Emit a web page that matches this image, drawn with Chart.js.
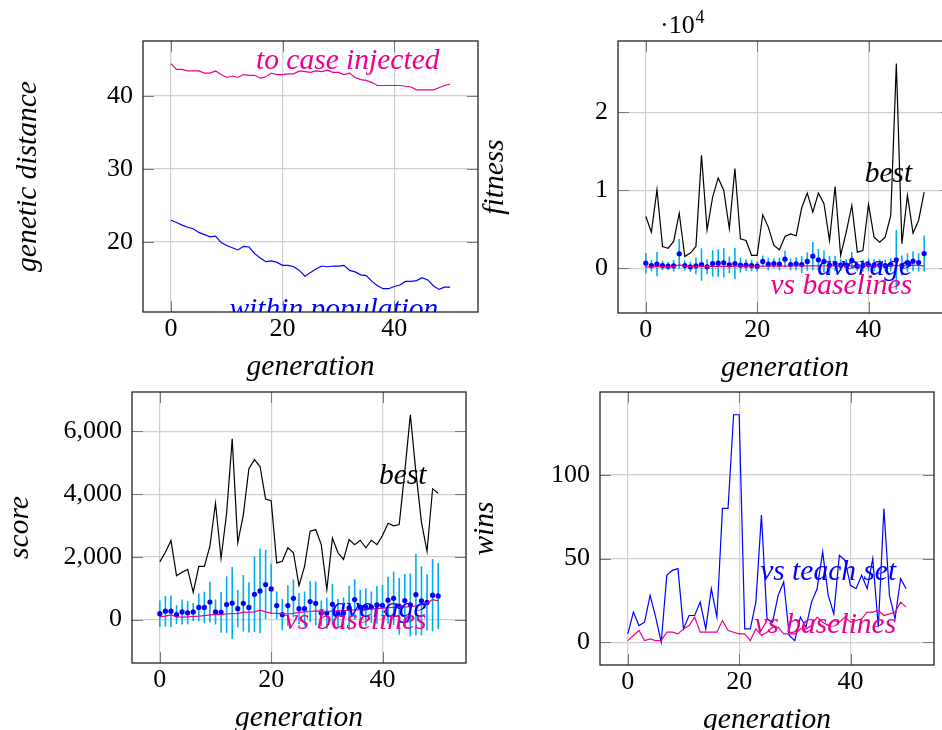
<!DOCTYPE html>
<html>
<head>
<meta charset="utf-8">
<script src="https://cdn.jsdelivr.net/npm/chart.js@4.4.1/dist/chart.umd.min.js"></script>
<style>
  html, body { margin: 0; padding: 0; background: #fff; overflow: hidden; width: 942px; height: 730px; position: relative; }
  canvas { position: absolute; }
</style>
</head>
<body>
<canvas id="distance"></canvas>
<canvas id="fitness"></canvas>
<canvas id="score"></canvas>
<canvas id="wins"></canvas>
<script>
// ---- data ----------------------------------------------------------
const generations = Array.from({ length: 51 }, (_, i) => i);
const xTickValues = [0, 20, 40];
const xTickLabels = ['0', '20', '40'];

// genetic distance
const distToCase = [44.4, 43.6, 43.6, 43.4, 43.4, 43.4, 43.1, 43.1, 43.4, 42.9,
  42.5, 42.7, 42.5, 42.9, 42.8, 42.8, 42.4, 42.6, 43.1, 42.9,
  42.9, 43.0, 43.0, 43.4, 43.3, 43.2, 43.4, 43.3, 43.5, 43.2,
  43.2, 42.9, 43.1, 42.5, 42.2, 42.1, 41.8, 41.4, 41.4, 41.4,
  41.4, 41.4, 41.3, 41.2, 40.8, 40.8, 40.8, 40.8, 41.1, 41.4, 41.6];
const distWithin = [22.97, 22.65, 22.3, 22.0, 21.8, 21.3, 21.0, 20.7, 20.8, 19.9,
  19.5, 19.2, 18.9, 19.4, 19.3, 18.4, 17.8, 17.3, 17.4, 17.2,
  16.8, 16.8, 16.6, 16.1, 15.3, 15.8, 16.3, 16.7, 16.6, 16.7,
  16.7, 16.8, 16.1, 15.9, 15.5, 15.4, 14.6, 14.0, 13.6, 13.6,
  13.9, 14.1, 14.6, 14.6, 14.7, 15.1, 14.8, 14.0, 13.5, 13.8, 13.8];
const distTickValues = [20, 30, 40];
const distTickLabels = ['20', '30', '40'];

// fitness
const fitBest = [6670, 4660, 10090, 2820, 2600, 3460, 7090, 1540, 1970, 2820,
  14500, 4960, 9150, 11600, 10000, 5090, 12800, 3800, 3590, 1670,
  1670, 6880, 5300, 2950, 2390, 4100, 4440, 4190, 7780, 9660,
  7220, 9660, 8290, 3590, 10500, 1670, 4660, 8080, 2090, 2310,
  8200, 4020, 3380, 4000, 6800, 26240, 3170, 9360, 4530, 6150, 9780];
const fitAvg = [680, 380, 560, 380, 300, 340, 1880, 380, 210, 340,
  510, 210, 640, 680, 730, 470, 640, 430, 430, 380,
  300, 900, 560, 640, 560, 1200, 510, 600, 510, 900,
  1580, 1110, 900, 430, 640, 430, 430, 1030, 300, 380,
  470, 430, 430, 380, 510, 1110, 380, 770, 940, 770, 1920];
const fitErr = [1320, 750, 1560, 600, 530, 750, 1900, 640, 640, 1070,
  2070, 960, 1700, 1770, 1880, 1070, 2030, 960, 750, 750,
  640, 750, 810, 640, 810, 1070, 750, 850, 1070, 1170,
  1810, 1390, 1390, 1170, 960, 750, 750, 1070, 640, 750,
  810, 750, 750, 750, 810, 3840, 1280, 1170, 1280, 1170, 2300];
const fitBase = [200, 220, 240, 230, 220, 240, 450, 300, 260, 250,
  260, 270, 280, 290, 280, 260, 290, 300, 290, 280,
  290, 320, 300, 310, 320, 300, 310, 320, 330, 340,
  340, 330, 320, 330, 330, 320, 330, 340, 340, 330,
  340, 340, 350, 350, 360, 370, 360, 380, 390, 400, 300];
const fitTickValues = [0, 10000, 20000];
const fitTickLabels = ['0', '1', '2'];

// score
const scoreBest = [1840, 2150, 2520, 1400, 1510, 1600, 870, 1700, 1700, 2340,
  3710, 1950, 3400, 5760, 2450, 3340, 4810, 5100, 4880, 3840,
  3790, 1810, 1860, 2290, 2130, 1085, 1700, 2820, 2870, 2390,
  960, 2600, 2130, 1920, 2550, 2390, 2530, 2290, 2530, 2390,
  2680, 3070, 2990, 3030, 4700, 6530, 4700, 3100, 2180, 4170, 4030];
const scoreAvg = [190, 270, 270, 160, 245, 220, 245, 390, 390, 560,
  245, 235, 480, 530, 350, 520, 390, 810, 915, 1120,
  980, 450, 160, 450, 680, 350, 350, 575, 520, 210,
  210, 490, 210, 210, 380, 640, 400, 400, 400, 470,
  450, 620, 680, 425, 610, 470, 800, 600, 550, 780, 755];
const scoreErr = [420, 490, 500, 300, 400, 370, 290, 450, 500, 650,
  400, 650, 900, 1150, 600, 900, 800, 1200, 1350, 1100,
  800, 450, 500, 650, 600, 500, 550, 650, 700, 400,
  500, 650, 450, 500, 700, 650, 550, 600, 500, 600,
  650, 750, 850, 900, 850, 1000, 1300, 1100, 900, 1150, 1050];
const scoreBase = [90, 110, 150, 90, 80, 90, 100, 110, 130, 150,
  160, 170, 180, 190, 200, 230, 240, 250, 300, 250,
  210, 200, 190, 180, 200, 230, 250, 260, 280, 270,
  260, 270, 280, 290, 300, 310, 320, 330, 340, 350,
  370, 380, 390, 400, 400, 420, 440, 470, 520, 640, 600];
const scoreTickValues = [0, 2000, 4000, 6000];
const scoreTickLabels = ['0', '2,000', '4,000', '6,000'];

// wins
const winsTeach = [5, 18, 10, 12, 28, 15, 0, 40, 43, 44,
  8, 16, 16, 24, 8, 32, 15, 80, 80, 136,
  136, 8, 8, 24, 76, 14, 12, 28, 36, 4,
  1, 15, 9, 24, 32, 54, 28, 17, 52, 49,
  34, 32, 40, 32, 50, 9, 80, 28, 14, 38, 32];
const winsBase = [1, 4, 7, 1, 2, 1, 1, 6, 6, 5,
  8, 10, 15, 6, 6, 6, 6, 13, 7, 6,
  5, 5, 1, 8, 4, 6, 9, 9, 5, 5,
  5, 8, 8, 10, 15, 12, 10, 13, 12, 15,
  12, 13, 14, 18, 18, 19, 16, 17, 18, 24, 21];
const winsTickValues = [0, 50, 100];
const winsTickLabels = ['0', '50', '100'];

// ---- styling -------------------------------------------------------
const SERIF = "'Liberation Serif', 'Times New Roman', serif";
const PINK = 'rgb(236,0,140)';
const BLUE = 'rgb(0,0,255)';
const CYAN = 'rgb(0,174,239)';
const GRID = 'rgb(208,208,208)';
const TICK = 'rgb(120,120,120)';
const TEXT_SIZE = 29.5;
const LABEL_FONT = `italic ${TEXT_SIZE}px ${SERIF}`;

const pts = arr => arr.map((v, i) => ({ x: generations[i], y: v }));
const bars = (avg, err) => avg.map((v, i) => ({ x: generations[i], y: [v - err[i], v + err[i]] }));

function lineSet(values, color, order) {
  return { type: 'line', data: pts(values), borderColor: color, borderWidth: 1.2,
           pointRadius: 0, tension: 0, fill: false, order };
}
function dotSet(values, order) {
  return { type: 'line', data: pts(values), showLine: false, pointRadius: 2.6,
           pointBackgroundColor: BLUE, pointBorderWidth: 0, borderColor: BLUE, order };
}
function errSet(avg, err, order) {
  return { type: 'bar', data: bars(avg, err), backgroundColor: CYAN, borderWidth: 0,
           barThickness: 1.6, grouped: false, inflateAmount: 0, order };
}

// frame + inward tick marks on all four sides
const framePlugin = {
  id: 'frame',
  afterDraw(chart) {
    const { ctx, chartArea: a, scales: { x, y } } = chart;
    const seg = (x1, y1, x2, y2) => { ctx.beginPath(); ctx.moveTo(x1, y1); ctx.lineTo(x2, y2); ctx.stroke(); };
    ctx.save();
    ctx.strokeStyle = TICK;
    ctx.lineWidth = 1;
    for (const t of x.ticks) {
      const px = Math.round(x.getPixelForValue(t.value)) + 0.5;
      seg(px, a.bottom, px, a.bottom - 11);
      seg(px, a.top, px, a.top + 11);
    }
    for (const t of y.ticks) {
      const py = Math.round(y.getPixelForValue(t.value)) + 0.5;
      seg(a.left, py, a.left + 11, py);
      seg(a.right, py, a.right - 11, py);
    }
    ctx.strokeStyle = '#222';
    ctx.lineWidth = 1.3;
    ctx.strokeRect(a.left, a.top, a.right - a.left, a.bottom - a.top);
    ctx.restore();
  }
};

function makePanel(id, box, spec) {
  const canvas = document.getElementById(id);
  const padTop = box.padTop || 30;
  const padRight = 4;
  const half = TEXT_SIZE * 1.2 / 2;
  const left = Math.round(box.titleX - half);
  const yW = box.L - left;
  const width = box.R - left + padRight;
  const height = padTop + (box.B - box.T) + box.xH;
  canvas.width = width;
  canvas.height = height;
  canvas.style.left = left + 'px';
  canvas.style.top = (box.T - padTop) + 'px';
  canvas.style.width = width + 'px';
  canvas.style.height = height + 'px';

  // series names written inside the plot, clipped by the frame
  const labelPlugin = {
    id: 'seriesNames',
    afterDatasetsDraw(chart) {
      const { ctx, chartArea: a, scales: { x, y } } = chart;
      ctx.save();
      ctx.beginPath();
      ctx.rect(a.left, a.top, a.right - a.left, a.bottom - a.top);
      ctx.clip();
      ctx.font = LABEL_FONT;
      ctx.textAlign = 'right';
      ctx.textBaseline = 'alphabetic';
      for (const it of spec.names) {
        ctx.fillStyle = it.color;
        ctx.fillText(it.text, x.getPixelForValue(it.x), y.getPixelForValue(it.y));
      }
      ctx.restore();
      if (spec.after) spec.after(chart);
    }
  };

  return new Chart(canvas, {
    type: 'line',
    data: { datasets: spec.datasets },
    options: {
      responsive: false,
      animation: false,
      devicePixelRatio: 1,
      events: [],
      layout: { padding: { top: padTop, right: padRight, left: 0, bottom: 0 } },
      plugins: { legend: { display: false }, tooltip: { enabled: false } },
      scales: {
        x: {
          type: 'linear', min: -5, max: 55, offset: false,
          afterBuildTicks: s => { s.ticks = xTickValues.map(v => ({ value: v })); },
          afterFit: s => { s.height = box.xH; },
          grid: { color: GRID, lineWidth: 1.2, drawTicks: false, offset: false },
          border: { display: false },
          ticks: { font: { family: SERIF, size: 26 }, color: '#000', padding: 2,
                   maxRotation: 0, autoSkip: false, callback: (v, i) => xTickLabels[i] },
          title: { display: true, text: 'generation', color: '#000', padding: 0,
                   font: { family: SERIF, size: TEXT_SIZE, style: 'italic' } }
        },
        y: {
          type: 'linear', min: spec.yMin, max: spec.yMax, offset: false,
          afterBuildTicks: s => { s.ticks = spec.yTicks.map(v => ({ value: v })); },
          afterFit: s => { s.width = yW; },
          grid: { color: GRID, lineWidth: 1.2, drawTicks: false },
          border: { display: false },
          ticks: { font: { family: SERIF, size: 26 }, color: '#000', padding: 10,
                   autoSkip: false, callback: (v, i) => spec.yLabels[i] },
          title: { display: true, text: spec.yTitle, color: '#000', padding: 0,
                   font: { family: SERIF, size: TEXT_SIZE, style: 'italic' } }
        }
      }
    },
    plugins: [labelPlugin, framePlugin]
  });
}

// ---- panels --------------------------------------------------------
makePanel('distance', { L: 143, T: 41, R: 478, B: 312, titleX: 29, xH: 73 }, {
  yMin: 10.41, yMax: 47.49, yTicks: distTickValues, yLabels: distTickLabels,
  yTitle: 'genetic distance',
  datasets: [lineSet(distToCase, PINK, 1), lineSet(distWithin, BLUE, 0)],
  names: [
    { text: 'to case injected', x: 48.1, y: 43.7, color: PINK },
    { text: 'within population', x: 47.9, y: 9.6, color: BLUE }
  ]
});

makePanel('fitness', { L: 618, T: 41, R: 952, B: 313, titleX: 496, xH: 73, padTop: 40 }, {
  yMin: -5700, yMax: 29140, yTicks: fitTickValues, yLabels: fitTickLabels,
  yTitle: 'fitness',
  datasets: [
    errSet(fitAvg, fitErr, 4),
    lineSet(fitBest, '#000', 3),
    dotSet(fitAvg, 1),
    lineSet(fitBase, PINK, 0)
  ],
  names: [
    { text: 'best', x: 47.85, y: 11070, color: '#000' },
    { text: 'average', x: 47.85, y: -810, color: BLUE },
    { text: 'vs baselines', x: 47.85, y: -3240, color: PINK }
  ],
  // scale factor of the y tick labels
  after(chart) {
    const { ctx, chartArea: a } = chart;
    ctx.save();
    ctx.fillStyle = '#000';
    ctx.textAlign = 'left';
    ctx.textBaseline = 'alphabetic';
    ctx.font = `26px ${SERIF}`;
    ctx.fillText('\u00B710', a.left + 42, a.top - 8.5);
    ctx.font = `18px ${SERIF}`;
    ctx.fillText('4', a.left + 77.5, a.top - 18);
    ctx.restore();
  }
});

makePanel('score', { L: 132, T: 392, R: 466, B: 663, titleX: 21, xH: 73 }, {
  yMin: -1381, yMax: 7254, yTicks: scoreTickValues, yLabels: scoreTickLabels,
  yTitle: 'score',
  datasets: [
    errSet(scoreAvg, scoreErr, 4),
    lineSet(scoreBest, '#000', 3),
    dotSet(scoreAvg, 1),
    lineSet(scoreBase, PINK, 0)
  ],
  names: [
    { text: 'best', x: 47.9, y: 4330, color: '#000' },
    { text: 'average', x: 47.9, y: 96, color: BLUE },
    { text: 'vs baselines', x: 47.9, y: -306, color: PINK }
  ]
});

makePanel('wins', { L: 600, T: 392, R: 934, B: 665, titleX: 486, xH: 73 }, {
  yMin: -13.6, yMax: 149.6, yTicks: winsTickValues, yLabels: winsTickLabels,
  yTitle: 'wins',
  datasets: [lineSet(winsTeach, BLUE, 1), lineSet(winsBase, PINK, 0)],
  names: [
    { text: 'vs teach set', x: 48.2, y: 37.3, color: BLUE },
    { text: 'vs baselines', x: 48.2, y: 5.6, color: PINK }
  ]
});
</script>
</body>
</html>
